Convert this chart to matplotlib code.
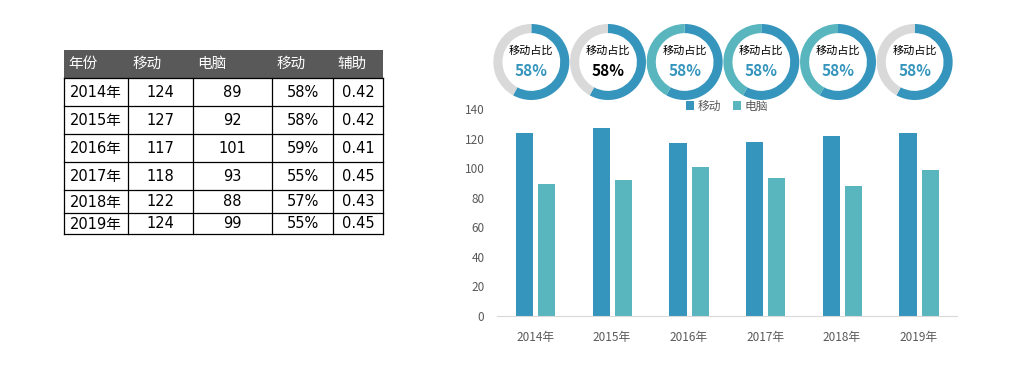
import matplotlib
matplotlib.use("Agg")
import matplotlib.pyplot as plt
from matplotlib.patches import Rectangle

plt.rcParams['font.family'] = ['Noto Sans CJK SC', 'DejaVu Sans']

years = ["2014年", "2015年", "2016年", "2017年", "2018年", "2019年"]
mobile = [124, 127, 117, 118, 122, 124]
pc = [89, 92, 101, 93, 88, 99]
mobile_pct = ["58%", "58%", "59%", "55%", "57%", "55%"]
aux = ["0.42", "0.42", "0.41", "0.45", "0.43", "0.45"]
headers = ["年份", "移动", "电脑", "移动", "辅助"]

donut_values = [0.58, 0.58, 0.58, 0.58, 0.58, 0.58]
donut_labels = ["58%", "58%", "58%", "58%", "58%", "58%"]
donut_rest_colors = ["#D9D9D9", "#D9D9D9", "#59B6BF", "#59B6BF", "#59B6BF", "#D9D9D9"]
donut_text_colors = ["#3595BC", "#000000", "#3595BC", "#3595BC", "#3595BC", "#3595BC"]

BLUE = "#3595BC"
TEAL = "#59B6BF"
TABLE_FONT = ['DejaVu Sans', 'Noto Sans CJK SC']

W, H = 1024, 368
fig = plt.figure(figsize=(W / 100, H / 100), dpi=100)

# ---------- table (pixel coordinates) ----------
tab = fig.add_axes([0, 0, 1, 1])
tab.set_xlim(0, W)
tab.set_ylim(H, 0)
tab.axis('off')

col_x = [64, 128, 193, 272, 333, 383]
row_y = [50, 78, 106, 134, 162, 190, 213, 234]
tab.add_patch(Rectangle((col_x[0], row_y[0]), col_x[-1] - col_x[0], row_y[1] - row_y[0],
                        facecolor="#595959", edgecolor="none"))
for j, h in enumerate(headers):
    tab.text(col_x[j] + 4, (row_y[0] + row_y[1]) / 2, h, color="white", fontsize=10.5,
             ha="left", va="center", family=['Noto Sans CJK SC', 'DejaVu Sans'])
rows = [[years[i], str(mobile[i]), str(pc[i]), mobile_pct[i], aux[i]] for i in range(len(years))]
for i, r in enumerate(rows):
    yc = (row_y[i + 1] + row_y[i + 2]) / 2
    for j, v in enumerate(r):
        tab.text((col_x[j] + col_x[j + 1]) / 2, yc + 0.5, v, color="black", fontsize=10.5,
                 ha="center", va="center", family=TABLE_FONT)
for y in row_y[1:]:
    tab.plot([col_x[0], col_x[-1]], [y, y], color="black", lw=0.9)
for x in col_x:
    tab.plot([x, x], [row_y[1], row_y[-1]], color="black", lw=0.9)

# ---------- bar chart ----------
ax_l, ax_r = 497, 957
ax_bottom, ax_top = 316, 109
ax = fig.add_axes([ax_l / W, (H - ax_bottom) / H, (ax_r - ax_l) / W, (ax_bottom - ax_top) / H])
x = list(range(len(years)))
bw = 0.225
ax.bar([i - 0.14 for i in x], mobile, width=bw, color=BLUE, label="移动")
ax.bar([i + 0.15 for i in x], pc, width=bw, color=TEAL, label="电脑")
ax.set_xlim(-0.5, len(years) - 0.5)
ax.set_ylim(0, 140)
ax.set_yticks(range(0, 141, 20))
ax.set_xticks(x)
ax.set_xticklabels(years)
for s in ["top", "right", "left"]:
    ax.spines[s].set_visible(False)
ax.spines["bottom"].set_color("#D9D9D9")
ax.tick_params(axis="both", length=0, colors="#595959", labelsize=8.5)
ax.tick_params(axis="x", pad=11)
ax.tick_params(axis="y", pad=9)
ax.set_facecolor("none")

# ---------- donuts ----------
step = (ax_r - ax_l) / len(years)
R = 38
cy = 62
for i in range(len(years)):
    cx = ax_l + step * (i + 0.5) - 4
    dax = fig.add_axes([(cx - R) / W, (H - cy - R) / H, 2 * R / W, 2 * R / H])
    v = donut_values[i]
    dax.pie([v, 1 - v], colors=[BLUE, donut_rest_colors[i]], startangle=90, counterclock=False,
            radius=1.0, wedgeprops=dict(width=0.24, edgecolor="none"))
    dax.set_xlim(-1, 1)
    dax.set_ylim(-1, 1)
    dax.set_aspect("auto")
    dax.axis("off")
    dax.text(0, 0.3, "移动占比", ha="center", va="center", fontsize=8, color="black")
    dax.text(0, -0.25, donut_labels[i], ha="center", va="center", fontsize=11,
             color=donut_text_colors[i], fontweight="bold")

# legend drawn on top in figure space
handles, labels = ax.get_legend_handles_labels()
leg = fig.legend(handles, labels, loc="center", bbox_to_anchor=(727 / W, (H - 106) / H), ncol=2,
                 frameon=False, fontsize=8.5, handlelength=0.7, handleheight=0.7,
                 handletextpad=0.3, columnspacing=1.0, borderpad=0)
for t in leg.get_texts():
    t.set_color("#595959")

fig.savefig("out.png", dpi=100)
